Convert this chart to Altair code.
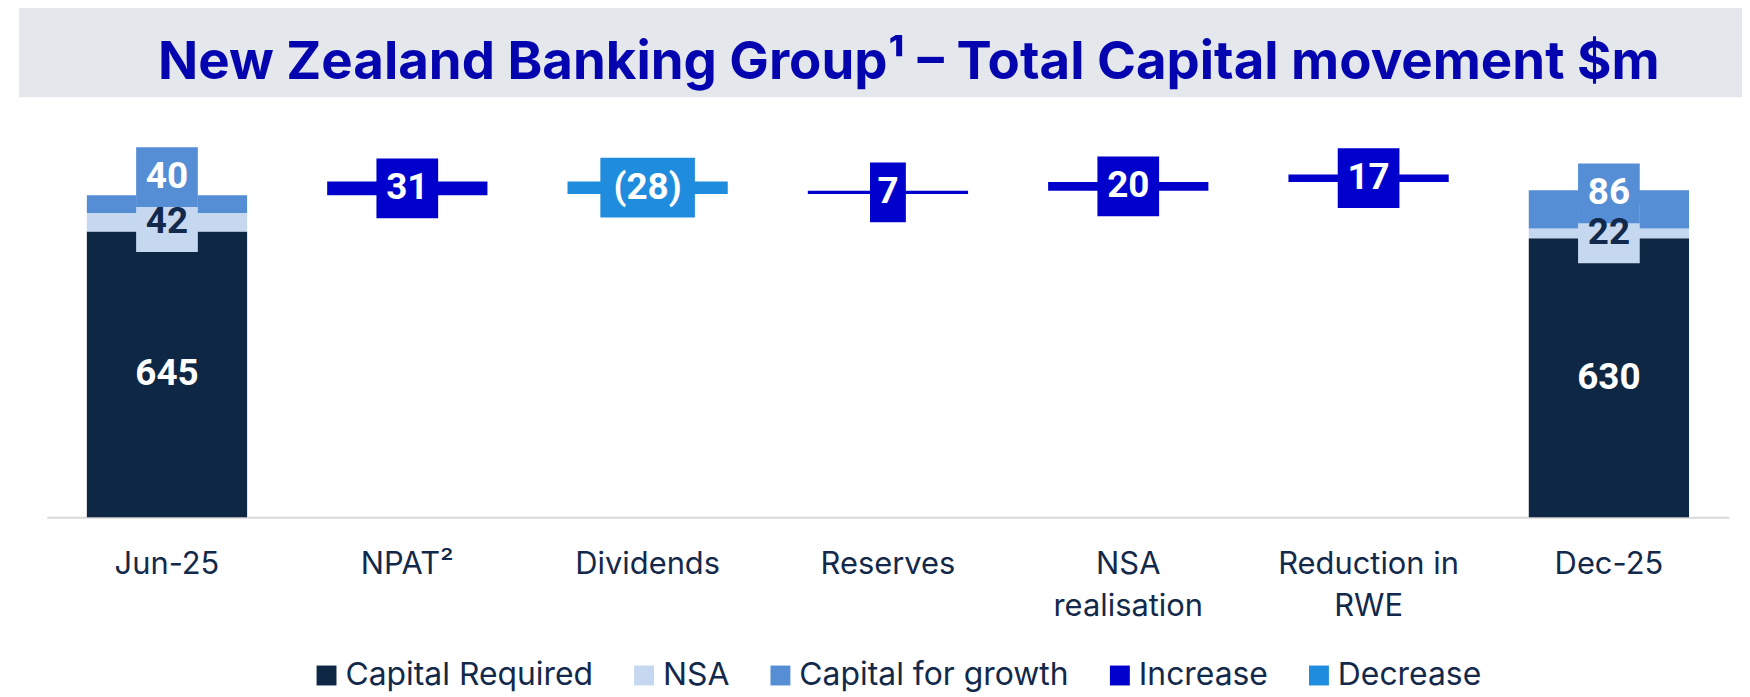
import altair as alt
import pandas as pd

# ---------------- data ----------------
categories = ["Jun-25", "NPAT²", "Dividends", "Reserves", "NSA realisation", "Reduction in RWE", "Dec-25"]
component_names = ["Capital Required", "NSA", "Capital for growth"]
jun25_values = [645, 42, 40]
dec25_values = [630, 22, 86]
movement_categories = ["NPAT²", "Dividends", "Reserves", "NSA realisation", "Reduction in RWE"]
movement_values = [31, -28, 7, 20, 17]
legend_names = ["Capital Required", "NSA", "Capital for growth", "Increase", "Decrease"]
legend_colors = ["#0D2744", "#C5D8F0", "#558ED5", "#0000CC", "#1F8CDE"]
title_text = "New Zealand Banking Group¹ – Total Capital movement $m"

# ---------------- build tables ----------------
rows = []


def stack(cat, vals):
    base = 0
    for name, v in zip(component_names, vals):
        rows.append(dict(cat=cat, series=name, y0=base, y1=base + v, value=v))
        base += v
    return base


level = stack("Jun-25", jun25_values)
for cat, v in zip(movement_categories, movement_values):
    rows.append(dict(cat=cat, series="Increase" if v >= 0 else "Decrease",
                     y0=level, y1=level + v, value=v))
    level += v
stack("Dec-25", dec25_values)

bars = pd.DataFrame(rows)
bars["mid"] = (bars["y0"] + bars["y1"]) / 2
bars["label"] = bars["value"].apply(lambda v: f"({-v})" if v < 0 else f"{v}")

W, H, D = 1690, 356, 800
px = D / H  # data units per pixel

# label nudges (pixels, negative = up) for the growth labels
nudge = {("Jun-25", "Capital for growth"): -27, ("Dec-25", "Capital for growth"): -16}
bars["ly"] = [m - nudge.get((c, s), 0) * px for c, s, m in zip(bars["cat"], bars["series"], bars["mid"])]
color_map = dict(zip(legend_names, legend_colors))
bars["box_color"] = bars["series"].map(color_map)
bars["text_color"] = bars["series"].map(lambda s: "#13294B" if s == "NSA" else "#FFFFFF")


def box_path(label):
    digits = sum(ch.isdigit() for ch in label)
    parens = sum(ch in "()" for ch in label)
    w = 10 + 26 * digits + 16.5 * parens
    a = w / 2 / 30
    return f"M{-a:.3f},-1H{a:.3f}V1H{-a:.3f}Z"


boxes = bars[bars["series"] != "Capital Required"].copy()
boxes["path"] = boxes["label"].apply(box_path)
boxes["order"] = (boxes["series"] != "NSA").astype(int)
boxes = boxes.sort_values("order", kind="stable")

# ---------------- encodings ----------------
label_expr = ("datum.label == 'NSA realisation' ? ['NSA', 'realisation'] : "
              "datum.label == 'Reduction in RWE' ? ['Reduction in', 'RWE'] : datum.label")

x_enc = alt.X(
    "cat:N", sort=categories,
    scale=alt.Scale(paddingInner=0.334, paddingOuter=0.167),
    axis=alt.Axis(title=None, labelAngle=0, domainColor="#D9D9D9", domainWidth=2,
                  ticks=False, tickSize=0, labelFont="Inter", labelFontSize=31,
                  labelColor="#13294B", labelPadding=33, labelLineHeight=42,
                  labelBaseline="top", grid=False, labelLimit=0, labelExpr=label_expr),
)
y_scale = alt.Scale(domain=[0, D], nice=False, zero=True)

bar_layer = alt.Chart(bars).mark_bar(width=161).encode(
    x=x_enc,
    y=alt.Y("y0:Q", scale=y_scale, axis=None),
    y2="y1:Q",
    color=alt.Color(
        "series:N",
        scale=alt.Scale(domain=legend_names, range=legend_colors),
        legend=alt.Legend(title=None, orient="none", legendX=265, legendY=499,
                          direction="horizontal", symbolType="square", symbolSize=400,
                          symbolStrokeWidth=0, labelFont="Inter", labelFontSize=32,
                          labelColor="#13294B", columnPadding=35, labelOffset=3,
                          labelLimit=0, padding=0),
    ),
)

box_layer = alt.Chart(boxes).mark_point(filled=True, opacity=1, strokeWidth=0, size=3600).encode(
    x=x_enc,
    y=alt.Y("ly:Q", scale=y_scale, axis=None),
    shape=alt.Shape("path:N", scale=None),
    fill=alt.Fill("box_color:N", scale=None),
)

text_layer = alt.Chart(bars).mark_text(
    font="Roboto", fontWeight="bold", fontSize=37, baseline="middle", align="center"
).encode(
    x=x_enc,
    y=alt.Y("ly:Q", scale=y_scale, axis=None),
    text="label:N",
    fill=alt.Fill("text_color:N", scale=None),
)

one = pd.DataFrame({"k": [0]})
band = alt.Chart(one).mark_rect(color="#E4E8EC").encode(
    x=alt.value(-28), x2=alt.value(1703), y=alt.value(-160), y2=alt.value(-66)
)
title = alt.Chart(one).mark_text(
    text=title_text, font="Inter", fontSize=53, fontWeight="bold", color="#0505B0",
    align="center", baseline="alphabetic"
).encode(x=alt.value(866), y=alt.value(-84))

chart = alt.layer(band, title, bar_layer, box_layer, text_layer).properties(
    width=W, height=H,
    padding={"left": 39, "top": 154, "right": 13, "bottom": 179},
    autosize=alt.AutoSizeParams(type="none"),
).configure_view(stroke=None).configure_axis(grid=False)

chart.save("out.html", embed_options={"renderer": "svg", "actions": False})
